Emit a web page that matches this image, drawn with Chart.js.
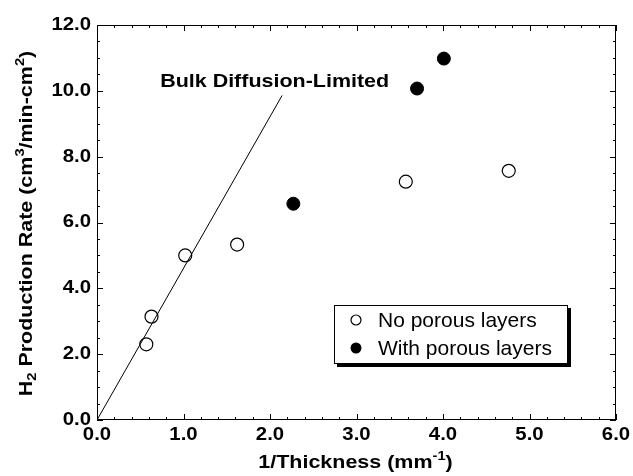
<!DOCTYPE html>
<html>
<head>
<meta charset="utf-8">
<script src="https://cdn.jsdelivr.net/npm/chart.js@4"></script>
<style>
  html, body { margin: 0; padding: 0; background: #fff; }
  #wrap { width: 633px; height: 476px; }
</style>
</head>
<body>
<div id="wrap"><canvas id="c" width="633" height="476"></canvas></div>
<script>
// ─── data ───────────────────────────────────────────────────
const noPorousX = [0.57, 0.63, 1.02, 1.62, 3.57, 4.76]
const noPorousY = [2.30, 3.14, 5.00, 5.33, 7.24, 7.57]
const porousX   = [2.27, 3.70, 4.01]
const porousY   = [6.57, 10.07, 10.98]
const bulkX     = [0, 2.14]
const bulkY     = [0, 9.86]
const seriesLabels = ['No porous layers', 'With porous layers', 'Bulk Diffusion-Limited']
const xTicks = [0, 1, 2, 3, 4, 5, 6]
const yTicks = [0, 2, 4, 6, 8, 10, 12]

const FONT = "'Liberation Sans', Arial, Helvetica, sans-serif"
const STRETCH = 1.13   // the original Helvetica renders wider than Liberation
const toXY = (xs, ys) => xs.map((x, i) => ({ x, y: ys[i] }))

// text drawn with horizontal stretch; align: 'left' | 'center' | 'right'
function stretchText(ctx, text, x, y, font, align) {
  ctx.save()
  ctx.font = font
  ctx.textAlign = 'left'
  ctx.textBaseline = 'middle'
  const w = ctx.measureText(text).width * STRETCH
  const x0 = align === 'center' ? x - w / 2 : align === 'right' ? x - w : x
  ctx.translate(x0, y)
  ctx.scale(STRETCH, 1)
  ctx.fillText(text, 0, 0)
  ctx.restore()
}

// runs: [text, 'n'|'sup'|'sub'], centred on (cx, cy)
function drawRuns(ctx, runs, cx, cy, size) {
  const small = Math.round(size * 0.68)
  const fontFor = k => `bold ${k === 'n' ? size : small}px ${FONT}`
  let total = 0
  runs.forEach(([t, k]) => { ctx.font = fontFor(k); total += ctx.measureText(t).width })
  ctx.save()
  ctx.translate(cx - total * STRETCH / 2, cy)
  ctx.scale(STRETCH, 1)
  ctx.textBaseline = 'middle'
  ctx.textAlign = 'left'
  let px = 0
  runs.forEach(([t, k]) => {
    ctx.font = fontFor(k)
    const dy = k === 'sup' ? -size * 0.36 : k === 'sub' ? size * 0.3 : 0
    ctx.fillText(t, px, dy)
    px += ctx.measureText(t).width
  })
  ctx.restore()
}

// inward ticks on all four sides, frame and tick labels
const frameTicks = {
  id: 'frameTicks',
  afterDraw(chart) {
    const { ctx, chartArea: a, scales: { x, y } } = chart
    ctx.save()
    ctx.strokeStyle = '#000'
    ctx.lineWidth = 1
    ctx.strokeRect(a.left + 0.5, a.top + 0.5, a.right - a.left - 1, a.bottom - a.top - 1)
    ctx.beginPath()
    for (let v = xTicks[0]; v <= xTicks[xTicks.length - 1] + 1e-9; v += 0.2) {
      const px = Math.round(x.getPixelForValue(v)) + 0.5
      const len = Math.abs(v - Math.round(v)) < 1e-6 ? 6 : 3
      ctx.moveTo(px, a.bottom); ctx.lineTo(px, a.bottom - len)
      ctx.moveTo(px, a.top);    ctx.lineTo(px, a.top + len)
    }
    for (let v = yTicks[0]; v <= yTicks[yTicks.length - 1] + 1e-9; v += 0.5) {
      const py = Math.round(y.getPixelForValue(v)) + 0.5
      const len = Math.abs(v / 2 - Math.round(v / 2)) < 1e-6 ? 6 : 3
      ctx.moveTo(a.left, py);  ctx.lineTo(a.left + len, py)
      ctx.moveTo(a.right, py); ctx.lineTo(a.right - len, py)
    }
    ctx.stroke()

    ctx.fillStyle = '#000'
    const tf = `bold 18px ${FONT}`
    x.ticks.forEach(t => stretchText(ctx, t.value.toFixed(1), x.getPixelForValue(t.value), a.bottom + 15, tf, 'center'))
    y.ticks.forEach(t => stretchText(ctx, t.value.toFixed(1), a.left - 6, y.getPixelForValue(t.value), tf, 'right'))
    ctx.restore()
  }
}

const titlesAndLegend = {
  id: 'titlesAndLegend',
  afterDraw(chart) {
    const { ctx, chartArea: a, scales: { x, y } } = chart
    ctx.save()
    ctx.fillStyle = '#000'

    // x title
    drawRuns(ctx, [['1/Thickness (mm', 'n'], ['-1', 'sup'], [')', 'n']], (a.left + a.right) / 2 - 1, 463, 19)

    // y title
    ctx.save()
    ctx.translate(27, (a.top + a.bottom) / 2 + 1)
    ctx.rotate(-Math.PI / 2)
    drawRuns(ctx, [['H', 'n'], ['2', 'sub'], [' Production Rate (cm', 'n'], ['3', 'sup'],
                   ['/min-cm', 'n'], ['2', 'sup'], [')', 'n']], 0, 0, 19)
    ctx.restore()

    // line annotation
    stretchText(ctx, seriesLabels[2], x.getPixelForValue(0.73), y.getPixelForValue(10.27), `bold 19px ${FONT}`, 'left')

    // legend box with drop shadow
    const bx = 334, by = 305, bw = 233, bh = 58
    ctx.fillStyle = '#000'
    ctx.fillRect(bx + 3, by + 3, bw + 1, bh + 1)
    ctx.fillStyle = '#fff'
    ctx.fillRect(bx, by, bw, bh)
    ctx.strokeStyle = '#000'
    ctx.lineWidth = 1
    ctx.strokeRect(bx + 0.5, by + 0.5, bw, bh)

    const rows = [by + 15, by + 43]
    ctx.beginPath(); ctx.arc(bx + 22, rows[0], 5, 0, Math.PI * 2)
    ctx.fillStyle = '#fff'; ctx.fill(); ctx.lineWidth = 1.2; ctx.stroke()
    ctx.beginPath(); ctx.arc(bx + 22, rows[1], 5.5, 0, Math.PI * 2)
    ctx.fillStyle = '#000'; ctx.fill()
    ctx.font = `21px ${FONT}`
    ctx.textAlign = 'left'
    ctx.textBaseline = 'middle'
    ctx.fillText(seriesLabels[0], bx + 44, rows[0] + 1)
    ctx.fillText(seriesLabels[1], bx + 44, rows[1] + 1)
    ctx.restore()
  }
}

new Chart(document.getElementById('c'), {
  data: {
    datasets: [
      {
        type: 'line', label: seriesLabels[2], data: toXY(bulkX, bulkY),
        borderColor: '#000', borderWidth: 1, pointRadius: 0, fill: false, tension: 0
      },
      {
        type: 'scatter', label: seriesLabels[0], data: toXY(noPorousX, noPorousY),
        pointRadius: 6.5, pointBackgroundColor: '#fff', pointBorderColor: '#000', pointBorderWidth: 1.2
      },
      {
        type: 'scatter', label: seriesLabels[1], data: toXY(porousX, porousY),
        pointRadius: 6.5, pointBackgroundColor: '#000', pointBorderColor: '#000', pointBorderWidth: 1
      }
    ]
  },
  options: {
    responsive: false, animation: false,
    layout: { padding: { top: 25, right: 17, left: 0, bottom: 0 } },
    plugins: { legend: { display: false }, tooltip: { enabled: false } },
    scales: {
      x: {
        type: 'linear', min: 0, max: 6,
        afterBuildTicks: s => { s.ticks = xTicks.map(v => ({ value: v })) },
        afterFit: s => { s.height = 56 },
        grid: { display: false, drawTicks: false },
        border: { display: false },
        ticks: { display: false }
      },
      y: {
        type: 'linear', min: 0, max: 12,
        afterBuildTicks: s => { s.ticks = yTicks.map(v => ({ value: v })) },
        afterFit: s => { s.width = 97 },
        grid: { display: false, drawTicks: false },
        border: { display: false },
        ticks: { display: false }
      }
    }
  },
  plugins: [frameTicks, titlesAndLegend]
})
</script>
</body>
</html>
